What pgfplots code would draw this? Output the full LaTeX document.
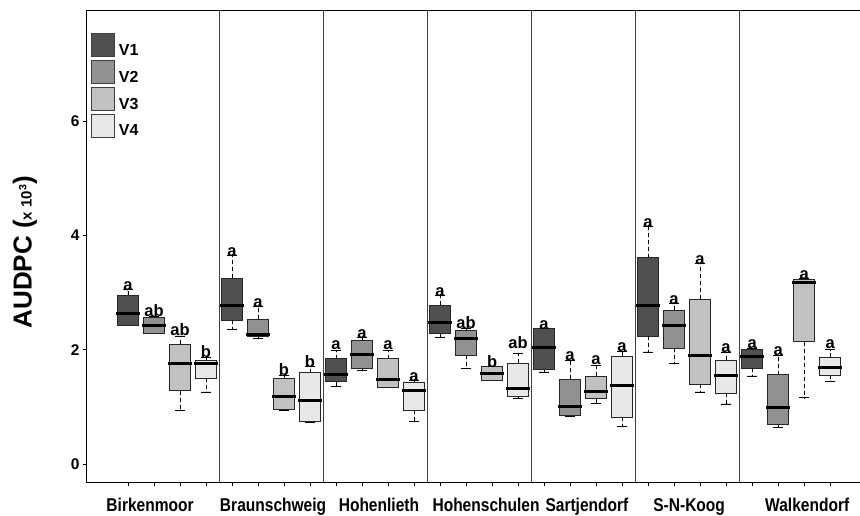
\documentclass[border=0pt]{standalone}
\usepackage{pgfplots}
\pgfplotsset{compat=1.18}
\usepgfplotslibrary{statistics}
\usepackage{fontspec}
\setmainfont{Liberation Sans}
\newfontfamily\narrowsans{Liberation Sans}[FakeStretch=0.84]

\definecolor{v1}{RGB}{80,80,80}
\definecolor{v2}{RGB}{145,145,145}
\definecolor{v3}{RGB}{193,193,193}
\definecolor{v4}{RGB}{232,232,232}

% one prepared box: position, lower whisker, lower quartile, median, upper quartile, upper whisker
\pgfplotsset{
  bx/.style n args={6}{
    boxplot prepared={draw direction=y, draw position=#1, lower whisker=#2, lower quartile=#3,
      median=#4, upper quartile=#5, upper whisker=#6},
    draw=black!85, line width=0.8pt},
  /pgfplots/boxplot/box extend=0.8,
  /pgfplots/boxplot/whisker extend=0.4,
  /pgfplots/boxplot/draw/whisker/.code 2 args={%
    \draw[black, line width=0.8pt, dash pattern=on 4pt off 3pt] (boxplot cs:#1) -- (boxplot cs:#2);
    \draw[black, line width=0.8pt] (boxplot whisker cs:#2,0) -- (boxplot whisker cs:#2,1);
  },
  /pgfplots/boxplot/draw/median/.code={%
    \draw[black, line width=3pt]
      (boxplot box cs:\pgfplotsboxplotvalue{median},-0.06) --
      (boxplot box cs:\pgfplotsboxplotvalue{median},1.06);
  },
  legsq/.style={legend image code/.code={%
    \draw[fill=#1, draw=black!75, line width=0.8pt] (0pt,-6pt) rectangle (23pt,17pt);}},
}

\begin{document}
\begin{tikzpicture}
\begin{axis}[
  name=ax,
  scale only axis,
  width=774pt, height=472pt,
  xmin=-1.615, xmax=28.15,
  ymin=-0.315, ymax=7.94,
  axis y line*=left,
  axis line style={black, line width=0.9pt},
  tick align=outside,
  xtick pos=left,
  ytick={0,2,4,6},
  major tick length=3pt,
  minor tick length=4pt,
  major x tick style={draw=none},
  minor x tick style={black, line width=0.6pt},
  minor xtick={0,...,27},
  xtick={0.85,5.58,9.65,13.77,17.65,21.58,26.12},
  xticklabels={Birkenmoor,Braunschweig,Hohenlieth,Hohenschulen,Sartjendorf,S-N-Koog,Walkendorf},
  xticklabel style={font=\narrowsans\bfseries\fontsize{18.5}{18.5}\selectfont, yshift=-10pt},
  yticklabel style={font=\bfseries\fontsize{15.5}{15.5}\selectfont},
  ytick style={black, line width=0.8pt},
  /pgf/number format/assume math mode=true,
  extra x ticks={3.5,7.5,11.5,15.5,19.5,23.5},
  extra x tick labels={},
  extra x tick style={grid=major, major tick length=0pt},
  major grid style={black!75, line width=0.9pt},
  ylabel={\bfseries\fontsize{26}{26}\selectfont AUDPC (\fontsize{15}{15}\selectfont x 10\textsuperscript{3}\fontsize{26}{26}\selectfont)},
  every axis y label/.style={at={(axis description cs:0,0.487)}, xshift=-61pt, rotate=90, anchor=center},
  legend style={at={(axis description cs:0,1)}, anchor=north west, xshift=5pt, yshift=-23pt,
    draw=none, fill=none, inner sep=0pt, row sep=3pt, column sep=4pt,
    font=\bfseries\fontsize{16}{16}\selectfont, nodes={inner sep=0pt}},
  legend cell align=left,
]
\addlegendimage{legsq=v1}
\addlegendimage{legsq=v2}
\addlegendimage{legsq=v3}
\addlegendimage{legsq=v4}
\legend{V1,V2,V3,V4}

% Birkenmoor
\addplot[bx={0}{2.42}{2.42}{2.63}{2.95}{3.06}, fill=v1] coordinates {};
\addplot[bx={1}{2.28}{2.28}{2.42}{2.57}{2.59}, fill=v2] coordinates {};
\addplot[bx={2}{0.93}{1.28}{1.76}{2.09}{2.24}, fill=v3] coordinates {};
\addplot[bx={3}{1.26}{1.50}{1.76}{1.82}{1.86}, fill=v4] coordinates {};
% Braunschweig
\addplot[bx={4}{2.35}{2.51}{2.77}{3.25}{3.64}, fill=v1] coordinates {};
\addplot[bx={5}{2.19}{2.23}{2.26}{2.53}{2.75}, fill=v2] coordinates {};
\addplot[bx={6}{0.94}{0.96}{1.18}{1.50}{1.55}, fill=v3] coordinates {};
\addplot[bx={7}{0.73}{0.75}{1.11}{1.60}{1.70}, fill=v4] coordinates {};
% Hohenlieth
\addplot[bx={8}{1.36}{1.44}{1.56}{1.84}{1.98}, fill=v1] coordinates {};
\addplot[bx={9}{1.63}{1.68}{1.92}{2.16}{2.21}, fill=v2] coordinates {};
\addplot[bx={10}{1.34}{1.34}{1.48}{1.84}{1.98}, fill=v3] coordinates {};
\addplot[bx={11}{0.74}{0.94}{1.28}{1.42}{1.46}, fill=v4] coordinates {};
% Hohenschulen
\addplot[bx={12}{2.21}{2.28}{2.47}{2.78}{2.94}, fill=v1] coordinates {};
\addplot[bx={13}{1.67}{1.90}{2.20}{2.34}{2.38}, fill=v2] coordinates {};
\addplot[bx={14}{1.46}{1.46}{1.59}{1.70}{1.71}, fill=v3] coordinates {};
\addplot[bx={15}{1.15}{1.18}{1.32}{1.76}{1.93}, fill=v4] coordinates {};
% Sartjendorf
\addplot[bx={16}{1.61}{1.66}{2.04}{2.37}{2.38}, fill=v1] coordinates {};
\addplot[bx={17}{0.84}{0.85}{1.00}{1.48}{1.82}, fill=v2] coordinates {};
\addplot[bx={18}{1.06}{1.14}{1.26}{1.54}{1.72}, fill=v3] coordinates {};
\addplot[bx={19}{0.65}{0.82}{1.38}{1.89}{1.97}, fill=v4] coordinates {};
% S-N-Koog
\addplot[bx={20}{1.96}{2.23}{2.77}{3.61}{4.16}, fill=v1] coordinates {};
\addplot[bx={21}{1.76}{2.02}{2.42}{2.69}{2.81}, fill=v2] coordinates {};
\addplot[bx={22}{1.26}{1.40}{1.90}{2.88}{3.51}, fill=v3] coordinates {};
\addplot[bx={23}{1.05}{1.24}{1.54}{1.82}{1.96}, fill=v4] coordinates {};
% Walkendorf
\addplot[bx={24}{1.54}{1.68}{1.88}{2.01}{2.03}, fill=v1] coordinates {};
\addplot[bx={25}{0.64}{0.69}{0.98}{1.56}{1.90}, fill=v2] coordinates {};
\addplot[bx={26}{1.16}{2.14}{3.18}{3.23}{3.24}, fill=v3] coordinates {};
\addplot[bx={27}{1.44}{1.55}{1.68}{1.87}{2.00}, fill=v4] coordinates {};

% significance letters above the upper whiskers
\addplot[only marks, mark=none, nodes near coords, point meta=explicit symbolic,
  every node near coord/.append style={anchor=base, inner sep=0pt, yshift=-1pt,
    font=\bfseries\fontsize{16.5}{16.5}\selectfont}]
  table[meta=lab] {
x y lab
0 3.06 a
1 2.59 ab
2 2.26 ab
3 1.88 b
4 3.64 a
5 2.76 a
6 1.56 b
7 1.71 b
8 2.02 a
9 2.22 a
10 2.02 a
11 1.46 a
12 2.94 a
13 2.38 ab
14 1.70 b
15 2.04 ab
16 2.37 a
17 1.82 a
18 1.75 a
19 1.99 a
20 4.16 a
21 2.81 a
22 3.51 a
23 1.96 a
24 2.03 a
25 1.91 a
26 3.25 a
27 2.03 a
};
\end{axis}
\pgfresetboundingbox
\path[use as bounding box] ([xshift=-86pt,yshift=-33pt]ax.south west) rectangle ([yshift=10pt]ax.north east);
\end{tikzpicture}
\end{document}
